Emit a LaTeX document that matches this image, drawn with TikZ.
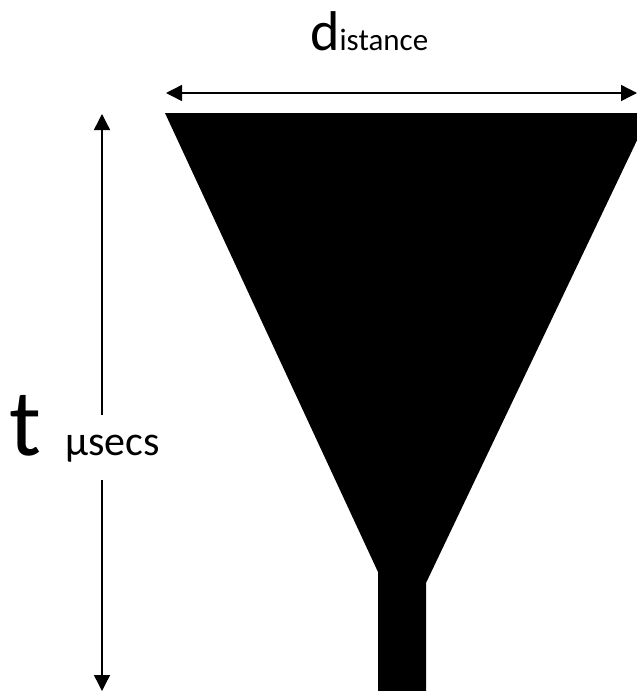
\documentclass[tikz,border=0pt]{standalone}
\usepackage{fontspec}
\setmainfont{Carlito}
\usetikzlibrary{arrows.meta}
\tikzset{
  arr/.style={line width=1.4pt,-{Triangle[length=16pt,width=16pt]}},
  lbl/.style={inner sep=0pt,anchor=base west},
  funnel/.style={fill=black,draw=none}
}
\begin{document}
\begin{tikzpicture}[x=1pt,y=-1pt]
\useasboundingbox (0,0) rectangle (637,691);
\begin{scope}
\clip (0,0) rectangle (637,691);
\fill[funnel] (165,113) -- (650,113) -- (426,583) -- (426,700) -- (378,700) -- (378,572) -- cycle;
\end{scope}
% labels
\node[lbl] (dlabel) at (310,50) {\fontsize{56}{56}\selectfont d\fontsize{31}{31}\selectfont istance};
\node[lbl] (tlabel) at (9,455) {\fontsize{95}{95}\selectfont t\hspace{24pt}\fontsize{42}{42}\selectfont μsecs};
% horizontal arrow
\coordinate (hmid) at (400,93);
\coordinate (hleft) at (166,93);
\coordinate (hright) at (637,93);
\draw[arr] (hmid) -- (hleft);
\draw[arr] (hmid) -- (hright);
% vertical arrow
\coordinate (vgaptop) at (102,415);
\coordinate (vgapbot) at (102,480);
\coordinate (vtop) at (102,114);
\coordinate (vbot) at (102,691);
\draw[arr] (vgaptop) -- (vtop);
\draw[arr] (vgapbot) -- (vbot);
\end{tikzpicture}
\end{document}
